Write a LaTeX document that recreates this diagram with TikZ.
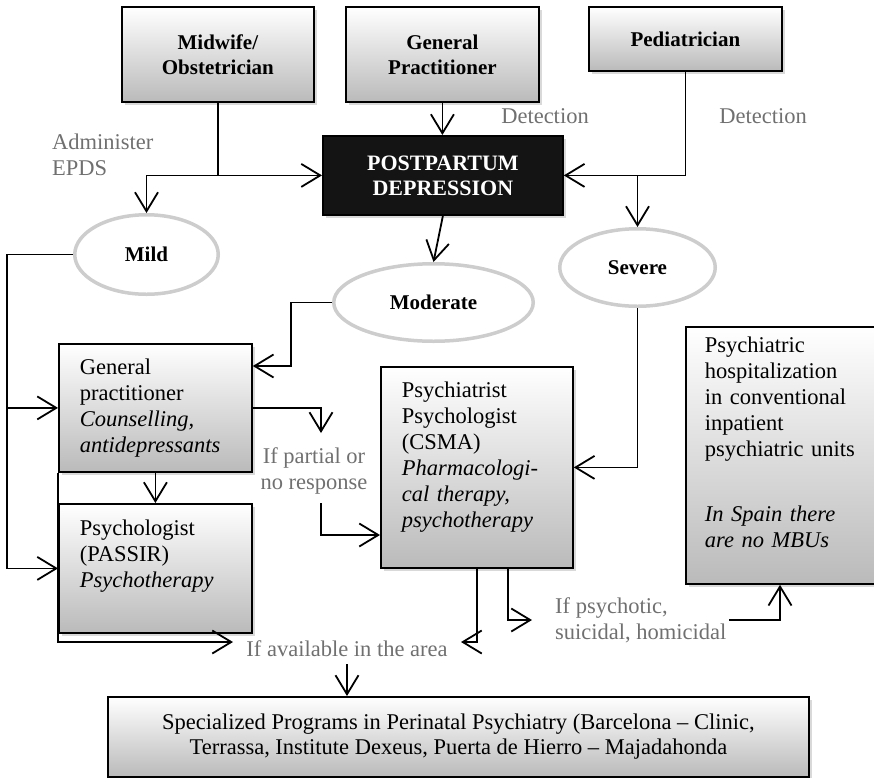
\documentclass[tikz,border=0pt]{standalone}
\usepackage{fontspec}
\setmainfont{Liberation Serif}
\usetikzlibrary{arrows.meta,shadows,shapes.geometric}
\definecolor{labelgray}{RGB}{112,112,112}
\definecolor{ringgray}{RGB}{205,205,205}
\tikzstyle{base}=[draw, line width=1.8pt, drop shadow={shadow xshift=3pt, shadow yshift=-3pt, opacity=0.3}]
\tikzstyle{shade}=[base, top color=white, bottom color=black!27]
\tikzstyle{who}=[shade, rectangle, anchor=north west, inner sep=0pt, align=center, font=\bfseries\fontsize{21}{25}\selectfont]
\tikzstyle{dark}=[base, rectangle, fill=black!92, text=white, anchor=north west, inner sep=0pt, align=center, font=\bfseries\fontsize{22}{25}\selectfont]
\tikzstyle{care}=[shade, rectangle, anchor=north west, inner xsep=21pt, inner ysep=0pt, align=left, text height=31pt, font=\fontsize{22.5}{26}\selectfont]
\tikzstyle{grade}=[ellipse, draw=ringgray, line width=3.5pt, fill=white, inner sep=0pt, font=\bfseries\fontsize{21}{25}\selectfont]
\tikzstyle{note}=[text=labelgray, inner sep=0pt, font=\fontsize{22.5}{26}\selectfont]
\tikzstyle{arr}=[line width=1.8pt, -{Straight Barb[length=19pt,width=23pt]}]
\newcommand{\whobox}{\node[who]}
\newcommand{\carebox}{\node[care]}
\newcommand{\grade}{\node[grade]}

\begin{document}
\begin{tikzpicture}[x=1pt, y=-1pt]
\useasboundingbox (0,0) rectangle (874,777);
\whobox (mid) at (121,6) [minimum width=192pt, minimum height=95pt] {Midwife/\\Obstetrician};
\whobox (gp) at (345,6) [minimum width=193pt, minimum height=95pt] {General\\Practitioner};
\whobox (ped) at (588,6) [minimum width=193pt, minimum height=64pt] {Pediatrician};
\node[dark] (ppd) at (322,135) [minimum width=240pt, minimum height=79pt] {POSTPARTUM\\DEPRESSION};

\grade (mild) at (146.5,254.5) [minimum width=143.5pt, minimum height=79.5pt] {Mild};
\grade (mod) at (433.5,302.5) [minimum width=199.5pt, minimum height=77.5pt] {Moderate};
\grade (sev) at (637.5,267.5) [minimum width=155.5pt, minimum height=77.5pt] {Severe};

\carebox (gpb) at (58,343) [text width=151pt, text depth=97pt] {General\\practitioner\\\textit{Counselling,}\\\textit{antidepressants}};
\carebox (psy) at (58,503) [text width=151pt, text height=32pt, text depth=97pt] {Psychologist\\(PASSIR)\\\textit{Psychotherapy}};
\carebox (csma) at (380,366) [text width=150pt, inner xsep=21pt, text depth=170pt] {Psychiatrist\\Psychologist\\(CSMA)\\\textit{Pharmacologi-}\\\textit{cal therapy,}\\\textit{psychotherapy}};
\carebox (hosp) at (685,326) [text width=156pt, inner xsep=19pt, text height=26pt, text depth=231pt] {Psychiatric\\hospitalization\\in conventional\\inpatient\\psychiatric units\\[39pt]\textit{In Spain there}\\\textit{are no MBUs}};
\node[shade, rectangle, anchor=north west, align=center, font=\fontsize{22.5}{25}\selectfont] (spec) at (107,696) [minimum width=701pt, minimum height=80pt] {Specialized Programs in Perinatal Psychiatry (Barcelona – Clinic,\\Terrassa, Institute Dexeus, Puerta de Hierro – Majadahonda};

\node[note, align=left, anchor=base west] (epds) at (52,175) {Administer\\EPDS};
\node[note, anchor=base] (det1) at (545,123) {Detection};
\node[note, anchor=base] (det2) at (763,123) {Detection};
\node[note, align=center, anchor=base] (partial) at (314,489) {If partial or\\no response};
\node[note, anchor=base, inner ysep=8pt] (avail) at (347,656) {If available in the area};
\node[note, align=left, anchor=base west] (psychotic) at (555,639) {If psychotic,\\suicidal, homicidal};

\coordinate (lft) at (7,0);
\coordinate (modk) at (291,366);
\coordinate (pk1) at (321,433);
\coordinate (pk2) at (321,503);
\coordinate (pk3) at (321,535);
\coordinate (ak1) at (233,642);
\coordinate (ak2) at (461,642);
\coordinate (bk1) at (532,620);
\coordinate (bk2) at (729,620);
\coordinate (hk) at (780,0);

\draw[arr] (mid.south) |- (ppd.west);
\draw[arr] (mid.south |- ppd.west) -| (mild.north);
\draw[arr] (gp.south) -- (gp.south |- ppd.north);
\draw[arr] (ped.south) |- (ppd.east);
\draw[arr] (ped.south |- ppd.east) -| (sev.north);
\draw[arr] (ppd.south) -- (mod.north);
\draw[arr] (mild.west) -| (lft |- psy.west) -- (psy.west);
\draw[arr] (lft |- gpb.west) -- (gpb.west);
\draw[arr] (mod.west) -| (modk) -- (modk -| gpb.east);
\draw[arr] (gpb.south) -- (psy.north);
\draw[arr] (gpb.east) -| (pk1);
\draw[arr] (pk2) -- (pk3) -- (pk3 -| csma.west);
\draw[arr] (sev.south) |- (csma.east);
\draw[arr] (gpb.south west) |- (ak1);
\draw[arr] (csma.south) |- (ak2);
\draw[arr] (avail.south) -- (avail.south |- spec.north);
\draw[arr] ([xshift=31pt]csma.south) |- (bk1);
\draw[arr] (bk2) -| (hk |- hosp.south);
\end{tikzpicture}
\end{document}
